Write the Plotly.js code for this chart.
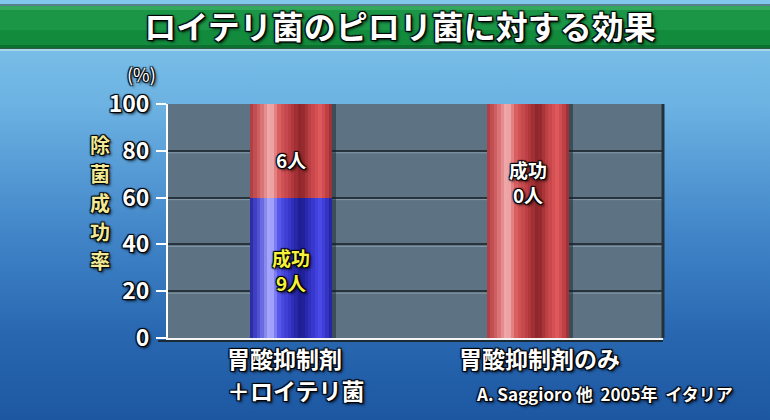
<!DOCTYPE html>
<html><head><meta charset="utf-8">
<script src="https://cdn.plot.ly/plotly-3.0.1.min.js"></script>
<style>
html,body{margin:0;padding:0;width:770px;height:420px;overflow:hidden;}
body{background:linear-gradient(to bottom,#82c7ec 0%,#6cb2e2 25%,#4286c9 55%,#2867b0 80%,#1d57a2 100%);}
#chart{width:770px;height:420px;}
</style></head><body><div id="chart"></div>
<script>
// ---- data ----
const categories = ['胃酸抑制剤<br>＋ロイテリ菌', '胃酸抑制剤のみ'];
const successRate = [60, 0];
const failRate = [40, 100];
const successCount = [9, 0];
const failCount = [6, null];
const yTicks = [0, 20, 40, 60, 80, 100];
const yTickLabels = ['0', '20', '40', '60', '80', '100'];
const titleText = 'ロイテリ菌のピロリ菌に対する効果';
const yTitleText = '除菌成功率';
const unitText = '(%)';
const sourceText = 'A. Saggioro 他&nbsp;&nbsp;2005年&nbsp;&nbsp;イタリア';

// ---- styling helpers ----
const FONT = '"Noto Sans CJK JP", "Noto Sans", sans-serif';
const OUTLINE = '1px 1px 1px #000, -1px -1px 1px #000, 1px -1px 1px #000, -1px 1px 1px #000, 2px 2px 3px rgba(0,0,0,0.8)';
const W = 770, H = 420, L = 168, R = 107, T = 104, B = 82;
const PW = W - L - R, PH = H - T - B;
const px2x = p => (p - L) / PW;
const py2y = p => (H - B - p) / PH;

function hex(c){return [parseInt(c.slice(1,3),16),parseInt(c.slice(3,5),16),parseInt(c.slice(5,7),16)];}
function grad(stops, t){
  for (let i = 0; i < stops.length - 1; i++) {
    const [a, ca] = stops[i], [b, cb] = stops[i+1];
    if (t >= a && t <= b) {
      const f = (t - a) / (b - a), A = hex(ca), Bc = hex(cb);
      return 'rgb(' + A.map((v,k)=>Math.round(v + (Bc[k]-v)*f)).join(',') + ')';
    }
  }
  return stops[stops.length-1][1];
}
const redStops = [[0,'#a8383c'],[0.12,'#d46466'],[0.25,'#f2b4b4'],[0.36,'#d85a5c'],[0.5,'#b83c40'],[0.62,'#8a2428'],[0.75,'#c44448'],[0.86,'#e05a5c'],[0.95,'#b83c40'],[1,'#8c2a2e']];
const blueStops = [[0,'#2424a0'],[0.12,'#5858dc'],[0.25,'#b4b4ff'],[0.36,'#5252ea'],[0.5,'#3232c4'],[0.62,'#1c1c8e'],[0.75,'#3434c8'],[0.86,'#4a4aea'],[0.95,'#3030bc'],[1,'#1e1e94']];

const xs = categories.map((_, i) => i);
const BW = 0.346, N = 24;
const totals = successRate.map((v, i) => v + failRate[i]);

const traces = [];
// drop shadow
traces.push({type:'bar', x: xs, y: totals, base: xs.map(()=>0), offset: -BW/2 + 0.018, width: BW,
  marker:{color:'rgba(20,30,40,0.45)', line:{width:0}}, hoverinfo:'skip', showlegend:false});
for (let i = 0; i < N; i++) {
  const t = (i + 0.5) / N;
  const off = -BW/2 + i * BW / N;
  traces.push({type:'bar', x: xs, y: successRate, base: xs.map(()=>0), offset: off, width: BW/N*1.05,
    marker:{color: grad(blueStops, t), line:{width:0}}, hoverinfo:'skip', showlegend:false});
  traces.push({type:'bar', x: xs, y: failRate, base: successRate, offset: off, width: BW/N*1.05,
    marker:{color: grad(redStops, t), line:{width:0}}, hoverinfo:'skip', showlegend:false});
}

// ---- annotations ----
const ann = [];
function barLabel(x, yCenter, yshift, lines, color){
  ann.push({x: x, y: yCenter, xref:'x', yref:'y', text: lines.join('<br>'), showarrow:false, yshift: yshift,
    font:{family: FONT, size: 19, color: color, weight: 'bold', shadow: OUTLINE}});
}
xs.forEach(i => {
  if (successRate[i] > 0) {
    barLabel(i, successRate[i]/2, -2, ['成功', successCount[i] + '人'], '#f6f23a');
    if (failCount[i] !== null) barLabel(i, successRate[i] + failRate[i]/2, -9, [failCount[i] + '人'], '#ffffff');
  } else {
    barLabel(i, successRate[i] + failRate[i]/2, 39, ['成功', successCount[i] + '人'], '#ffffff');
  }
});
// category labels (each line placed separately for the reference's line spacing)
categories[0].split('<br>').forEach((ln, k) => {
  ann.push({xref:'paper', yref:'paper', x: px2x(225), y: py2y(358 + k*32), xanchor:'left', yanchor:'middle', align:'left',
    text: ln, showarrow:false, font:{family: FONT, size: 23, color:'#ffffff', weight:'bold', shadow: OUTLINE}});
});
ann.push({xref:'paper', yref:'paper', x: px2x(539), y: py2y(358), xanchor:'center', yanchor:'middle', align:'center',
  text: categories[1], showarrow:false, font:{family: FONT, size: 23, color:'#ffffff', weight:'bold', shadow: OUTLINE}});
// source
ann.push({xref:'paper', yref:'paper', x: px2x(735), y: py2y(393), xanchor:'right', yanchor:'middle',
  text: sourceText, showarrow:false, font:{family: FONT, size: 17, color:'#ffffff', weight:'bold', shadow: OUTLINE}});
// unit
ann.push({xref:'paper', yref:'paper', x: px2x(141), y: py2y(74), xanchor:'center', yanchor:'middle',
  text: unitText, showarrow:false, font:{family: FONT, size: 18, color:'#ffffff', shadow: OUTLINE}});
// vertical y title (one character per annotation)
Array.from(yTitleText).forEach((ch, k) => {
  ann.push({xref:'paper', yref:'paper', x: px2x(100), y: py2y(144 + k*29), xanchor:'center', yanchor:'middle',
    text: ch, showarrow:false, borderpad: 0,
    font:{family: FONT, size: 20, color:'#f2ea96', weight:'bold', shadow: OUTLINE}});
});

// ---- shapes ----
const shapes = [];
const bx0 = px2x(0), bx1 = px2x(W);
function band(y0, y1, color){
  shapes.push({type:'rect', xref:'paper', yref:'paper', x0:bx0, x1:bx1, y0:py2y(y1), y1:py2y(y0),
    fillcolor: color, line:{width:0}, layer:'below'});
}
band(4, 6, '#58808a');
band(6, 10, '#34a85c');
band(10, 30, '#1a9646');
band(30, 45, '#128b3d');
band(45, 48, '#0c7030');
band(48, 49, '#2d5a40');
band(49, 51, '#a8d8e8');
// grid highlights
yTicks.filter(v => v > 0 && v < 100).forEach(v => {
  shapes.push({type:'line', xref:'paper', yref:'y', x0:0, x1:1, ysizemode:'pixel', yanchor:v, y0:-2, y1:-2,
    line:{color:'rgba(150,170,182,0.7)', width:1}, layer:'below'});
});
// right edge shadow
shapes.push({type:'line', xref:'paper', yref:'paper', x0:1, x1:1, y0:0, y1:1, line:{color:'#24313b', width:3}});
// dark line beneath the bottom axis
shapes.push({type:'line', xref:'paper', yref:'paper', x0:px2x(158), x1:1, y0:0, y1:0, ysizemode:'pixel', yanchor:0, y0:-3, y1:-3,
  line:{color:'#1c2a36', width:2}});

const layout = {
  width: W, height: H,
  margin: {l: L, r: R, t: T, b: B, pad: 0},
  paper_bgcolor: 'rgba(0,0,0,0)',
  plot_bgcolor: '#5d7383',
  barmode: 'overlay',
  bargap: 0,
  hovermode: false,
  showlegend: false,
  title: {text: titleText, xref:'container', yref:'container', x: 400/W, y: 1 - 28/H, xanchor:'center', yanchor:'middle',
    font:{family: FONT, size: 32, color:'#ffffff', weight:'bold', shadow: OUTLINE}},
  xaxis: {range: [-0.519, 1.57], showticklabels: false, showgrid: false, zeroline: false,
    showline: true, linecolor: '#f4f4f4', linewidth: 3, ticks: '', fixedrange: true},
  yaxis: {range: [0, 100], tickvals: yTicks, ticktext: yTickLabels, ticks: 'outside', ticklen: 10, tickwidth: 2,
    tickcolor: '#ffffff', showline: true, linecolor: '#ffffff', linewidth: 2, showgrid: true,
    gridcolor: '#27343e', gridwidth: 2, zeroline: false, ticklabelstandoff: 2, fixedrange: true,
    tickfont: {family: FONT, size: 23, color: '#ffffff', weight: 'bold', shadow: OUTLINE}},
  annotations: ann,
  shapes: shapes
};
Plotly.newPlot('chart', traces, layout, {displayModeBar: false, staticPlot: true});
</script></body></html>
